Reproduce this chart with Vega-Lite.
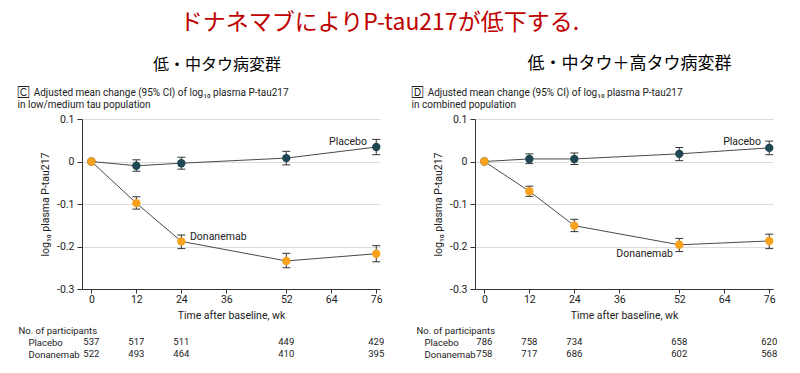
{
  "$schema": "https://vega.github.io/schema/vega-lite/v6.json",
  "padding": {"left": 17, "top": 12, "right": 5, "bottom": 5},
  "background": "white",
  "title": {"text": "ドナネマブによりP-tau217が低下する.", "color": "#c00000", "fontSize": 23, "font": "Noto Sans CJK JP", "fontWeight": "normal", "anchor": "middle", "dx": -18, "offset": 20},
  "datasets": {
    "pts": [
      {"panel": "C", "group": "Placebo", "week": 0, "mean": 0, "lo": 0, "hi": 0},
      {"panel": "C", "group": "Placebo", "week": 12, "mean": -0.010, "lo": -0.023, "hi": 0.004},
      {"panel": "C", "group": "Placebo", "week": 24, "mean": -0.004, "lo": -0.018, "hi": 0.010},
      {"panel": "C", "group": "Placebo", "week": 52, "mean": 0.008, "lo": -0.008, "hi": 0.024},
      {"panel": "C", "group": "Placebo", "week": 76, "mean": 0.034, "lo": 0.016, "hi": 0.052},
      {"panel": "C", "group": "Donanemab", "week": 0, "mean": 0, "lo": 0, "hi": 0},
      {"panel": "C", "group": "Donanemab", "week": 12, "mean": -0.098, "lo": -0.112, "hi": -0.083},
      {"panel": "C", "group": "Donanemab", "week": 24, "mean": -0.188, "lo": -0.205, "hi": -0.173},
      {"panel": "C", "group": "Donanemab", "week": 52, "mean": -0.234, "lo": -0.250, "hi": -0.216},
      {"panel": "C", "group": "Donanemab", "week": 76, "mean": -0.217, "lo": -0.236, "hi": -0.198},
      {"panel": "D", "group": "Placebo", "week": 0, "mean": 0, "lo": 0, "hi": 0},
      {"panel": "D", "group": "Placebo", "week": 12, "mean": 0.006, "lo": -0.005, "hi": 0.018},
      {"panel": "D", "group": "Placebo", "week": 24, "mean": 0.006, "lo": -0.007, "hi": 0.020},
      {"panel": "D", "group": "Placebo", "week": 52, "mean": 0.018, "lo": 0.002, "hi": 0.033},
      {"panel": "D", "group": "Placebo", "week": 76, "mean": 0.032, "lo": 0.016, "hi": 0.048},
      {"panel": "D", "group": "Donanemab", "week": 0, "mean": 0, "lo": 0, "hi": 0},
      {"panel": "D", "group": "Donanemab", "week": 12, "mean": -0.070, "lo": -0.082, "hi": -0.058},
      {"panel": "D", "group": "Donanemab", "week": 24, "mean": -0.151, "lo": -0.165, "hi": -0.136},
      {"panel": "D", "group": "Donanemab", "week": 52, "mean": -0.196, "lo": -0.212, "hi": -0.181},
      {"panel": "D", "group": "Donanemab", "week": 76, "mean": -0.187, "lo": -0.205, "hi": -0.171}
    ],
    "labels": [
      {"panel": "C", "label": "Placebo", "week": 73.5, "value": 0.047, "side": "right"},
      {"panel": "C", "label": "Donanemab", "week": 26.3, "value": -0.178, "side": "left"},
      {"panel": "D", "label": "Placebo", "week": 73.8, "value": 0.047, "side": "right"},
      {"panel": "D", "label": "Donanemab", "week": 50.3, "value": -0.217, "side": "right"}
    ],
    "counts": [
      {"panel": "C", "group": "Placebo", "week": 0, "n": 537},
      {"panel": "C", "group": "Placebo", "week": 12, "n": 517},
      {"panel": "C", "group": "Placebo", "week": 24, "n": 511},
      {"panel": "C", "group": "Placebo", "week": 52, "n": 449},
      {"panel": "C", "group": "Placebo", "week": 76, "n": 429},
      {"panel": "C", "group": "Donanemab", "week": 0, "n": 522},
      {"panel": "C", "group": "Donanemab", "week": 12, "n": 493},
      {"panel": "C", "group": "Donanemab", "week": 24, "n": 464},
      {"panel": "C", "group": "Donanemab", "week": 52, "n": 410},
      {"panel": "C", "group": "Donanemab", "week": 76, "n": 395},
      {"panel": "D", "group": "Placebo", "week": 0, "n": 786},
      {"panel": "D", "group": "Placebo", "week": 12, "n": 758},
      {"panel": "D", "group": "Placebo", "week": 24, "n": 734},
      {"panel": "D", "group": "Placebo", "week": 52, "n": 658},
      {"panel": "D", "group": "Placebo", "week": 76, "n": 620},
      {"panel": "D", "group": "Donanemab", "week": 0, "n": 758},
      {"panel": "D", "group": "Donanemab", "week": 12, "n": 717},
      {"panel": "D", "group": "Donanemab", "week": 24, "n": 686},
      {"panel": "D", "group": "Donanemab", "week": 52, "n": 602},
      {"panel": "D", "group": "Donanemab", "week": 76, "n": 568}
    ]
  },
  "spacing": 26,
  "hconcat": [
    {
      "title": {"text": "低・中タウ病変群", "fontSize": 16, "font": "Noto Sans CJK JP", "fontWeight": "normal", "color": "#000", "anchor": "middle", "dx": 16, "offset": 15},
      "spacing": 4,
      "vconcat": [
        {
          "width": 298,
          "height": 170,
          "title": {"text": ["🄲\u2002Adjusted mean change (95% CI) of log₁₀ plasma P-tau217", "\u2003\u2002in low/medium tau population"], "anchor": "start", "dx": -23, "fontSize": 10, "font": "Roboto", "fontWeight": "normal", "color": "#222", "lineHeight": 12, "offset": 4},
          "data": {"name": "pts"},
          "transform": [{"filter": "datum.panel === 'C'"}],
          "layer": [
            {
              "mark": {"type": "line", "color": "#4a4a4a", "strokeWidth": 1},
              "encoding": {
                "x": {"field": "week", "type": "quantitative", "scale": {"domain": [-2.5, 77], "nice": false, "zero": false}, "title": "Time after baseline, wk",
                  "axis": {"values": [0, 12, 24, 36, 52, 64, 76], "grid": false, "tickSize": 4, "labelPadding": 1, "titlePadding": 6}},
                "y": {"field": "mean", "type": "quantitative", "scale": {"domain": [-0.3, 0.1], "nice": false, "zero": false}, "title": "log₁₀ plasma P-tau217",
                  "axis": {"values": [-0.3, -0.2, -0.1, 0, 0.1], "grid": true, "tickSize": 5, "labelPadding": 3, "titlePadding": 6,
                    "labelExpr": "datum.value === 0 ? '0' : (datum.value < 0 ? '-' : '') + format(abs(datum.value), '.1f')"}},
                "detail": {"field": "group"}
              }
            },
            {
              "transform": [{"filter": "datum.week > 0"}],
              "mark": {"type": "rule", "color": "#333", "strokeWidth": 1},
              "encoding": {
                "x": {"field": "week", "type": "quantitative", "title": "Time after baseline, wk"},
                "y": {"field": "lo", "type": "quantitative", "title": "log₁₀ plasma P-tau217"},
                "y2": {"field": "hi"}
              }
            },
            {
              "transform": [{"filter": "datum.week > 0"}],
              "mark": {"type": "tick", "orient": "horizontal", "size": 8, "thickness": 1, "color": "#333", "opacity": 1},
              "encoding": {
                "x": {"field": "week", "type": "quantitative", "title": "Time after baseline, wk"},
                "y": {"field": "lo", "type": "quantitative", "title": "log₁₀ plasma P-tau217"}
              }
            },
            {
              "transform": [{"filter": "datum.week > 0"}],
              "mark": {"type": "tick", "orient": "horizontal", "size": 8, "thickness": 1, "color": "#333", "opacity": 1},
              "encoding": {
                "x": {"field": "week", "type": "quantitative", "title": "Time after baseline, wk"},
                "y": {"field": "hi", "type": "quantitative", "title": "log₁₀ plasma P-tau217"}
              }
            },
            {
              "mark": {"type": "circle", "size": 70, "opacity": 1},
              "encoding": {
                "x": {"field": "week", "type": "quantitative", "title": "Time after baseline, wk"},
                "y": {"field": "mean", "type": "quantitative", "title": "log₁₀ plasma P-tau217"},
                "color": {"field": "group", "type": "nominal", "scale": {"domain": ["Placebo", "Donanemab"], "range": ["#1f4753", "#f7a11c"]}, "legend": null}
              }
            },
            {
              "data": {"name": "labels"},
              "transform": [{"filter": "datum.panel === 'C' && datum.side === 'right'"}],
              "mark": {"type": "text", "align": "right", "baseline": "middle", "fontSize": 10.5, "font": "Roboto", "color": "#222"},
              "encoding": {
                "x": {"field": "week", "type": "quantitative", "title": "Time after baseline, wk"},
                "y": {"field": "value", "type": "quantitative", "title": "log₁₀ plasma P-tau217"},
                "text": {"field": "label"}
              }
            },
            {
              "data": {"name": "labels"},
              "transform": [{"filter": "datum.panel === 'C' && datum.side === 'left'"}],
              "mark": {"type": "text", "align": "left", "baseline": "middle", "fontSize": 10.5, "font": "Roboto", "color": "#222"},
              "encoding": {
                "x": {"field": "week", "type": "quantitative", "title": "Time after baseline, wk"},
                "y": {"field": "value", "type": "quantitative", "title": "log₁₀ plasma P-tau217"},
                "text": {"field": "label"}
              }
            }
          ]
        },
        {
          "width": 298,
          "height": 24,
          "data": {"name": "counts"},
          "transform": [{"filter": "datum.panel === 'C'"}],
          "mark": {"type": "text", "fontSize": 9.5, "font": "Roboto", "color": "#222", "baseline": "middle"},
          "encoding": {
            "x": {"field": "week", "type": "quantitative", "scale": {"domain": [-2.5, 77], "nice": false, "zero": false}, "axis": null},
            "y": {"field": "group", "type": "nominal", "sort": ["Placebo", "Donanemab"], "title": "No. of participants",
              "axis": {"domain": false, "ticks": false, "tickSize": 0, "labelAlign": "left", "labelPadding": 54, "labelFontSize": 9.5, "titleFontSize": 9.5, "titleAngle": 0, "titleX": -64, "titleY": -6, "titleAlign": "left", "titleBaseline": "middle"}},
            "text": {"field": "n"}
          }
        }
      ]
    },
    {
      "title": {"text": "低・中タウ＋高タウ病変群", "fontSize": 17, "font": "Noto Sans CJK JP", "fontWeight": "normal", "color": "#000", "anchor": "middle", "dx": 35, "offset": 15},
      "spacing": 4,
      "vconcat": [
        {
          "width": 298,
          "height": 170,
          "title": {"text": ["🄳\u2002Adjusted mean change (95% CI) of log₁₀ plasma P-tau217", "\u2003\u2002in combined population"], "anchor": "start", "dx": -22, "fontSize": 10, "font": "Roboto", "fontWeight": "normal", "color": "#222", "lineHeight": 12, "offset": 4},
          "data": {"name": "pts"},
          "transform": [{"filter": "datum.panel === 'D'"}],
          "layer": [
            {
              "mark": {"type": "line", "color": "#4a4a4a", "strokeWidth": 1},
              "encoding": {
                "x": {"field": "week", "type": "quantitative", "scale": {"domain": [-2.5, 77], "nice": false, "zero": false}, "title": "Time after baseline, wk",
                  "axis": {"values": [0, 12, 24, 36, 52, 64, 76], "grid": false, "tickSize": 4, "labelPadding": 1, "titlePadding": 6}},
                "y": {"field": "mean", "type": "quantitative", "scale": {"domain": [-0.3, 0.1], "nice": false, "zero": false}, "title": "log₁₀ plasma P-tau217",
                  "axis": {"values": [-0.3, -0.2, -0.1, 0, 0.1], "grid": true, "tickSize": 5, "labelPadding": 3, "titlePadding": 6,
                    "labelExpr": "datum.value === 0 ? '0' : (datum.value < 0 ? '-' : '') + format(abs(datum.value), '.1f')"}},
                "detail": {"field": "group"}
              }
            },
            {
              "transform": [{"filter": "datum.week > 0"}],
              "mark": {"type": "rule", "color": "#333", "strokeWidth": 1},
              "encoding": {
                "x": {"field": "week", "type": "quantitative", "title": "Time after baseline, wk"},
                "y": {"field": "lo", "type": "quantitative", "title": "log₁₀ plasma P-tau217"},
                "y2": {"field": "hi"}
              }
            },
            {
              "transform": [{"filter": "datum.week > 0"}],
              "mark": {"type": "tick", "orient": "horizontal", "size": 8, "thickness": 1, "color": "#333", "opacity": 1},
              "encoding": {
                "x": {"field": "week", "type": "quantitative", "title": "Time after baseline, wk"},
                "y": {"field": "lo", "type": "quantitative", "title": "log₁₀ plasma P-tau217"}
              }
            },
            {
              "transform": [{"filter": "datum.week > 0"}],
              "mark": {"type": "tick", "orient": "horizontal", "size": 8, "thickness": 1, "color": "#333", "opacity": 1},
              "encoding": {
                "x": {"field": "week", "type": "quantitative", "title": "Time after baseline, wk"},
                "y": {"field": "hi", "type": "quantitative", "title": "log₁₀ plasma P-tau217"}
              }
            },
            {
              "mark": {"type": "circle", "size": 70, "opacity": 1},
              "encoding": {
                "x": {"field": "week", "type": "quantitative", "title": "Time after baseline, wk"},
                "y": {"field": "mean", "type": "quantitative", "title": "log₁₀ plasma P-tau217"},
                "color": {"field": "group", "type": "nominal", "scale": {"domain": ["Placebo", "Donanemab"], "range": ["#1f4753", "#f7a11c"]}, "legend": null}
              }
            },
            {
              "data": {"name": "labels"},
              "transform": [{"filter": "datum.panel === 'D'"}],
              "mark": {"type": "text", "align": "right", "baseline": "middle", "fontSize": 10.5, "font": "Roboto", "color": "#222"},
              "encoding": {
                "x": {"field": "week", "type": "quantitative", "title": "Time after baseline, wk"},
                "y": {"field": "value", "type": "quantitative", "title": "log₁₀ plasma P-tau217"},
                "text": {"field": "label"}
              }
            }
          ]
        },
        {
          "width": 298,
          "height": 24,
          "data": {"name": "counts"},
          "transform": [{"filter": "datum.panel === 'D'"}],
          "mark": {"type": "text", "fontSize": 9.5, "font": "Roboto", "color": "#222", "baseline": "middle"},
          "encoding": {
            "x": {"field": "week", "type": "quantitative", "scale": {"domain": [-2.5, 77], "nice": false, "zero": false}, "axis": null},
            "y": {"field": "group", "type": "nominal", "sort": ["Placebo", "Donanemab"], "title": "No. of participants",
              "axis": {"domain": false, "ticks": false, "tickSize": 0, "labelAlign": "left", "labelPadding": 51, "labelFontSize": 9.5, "titleFontSize": 9.5, "titleAngle": 0, "titleX": -59, "titleY": -6, "titleAlign": "left", "titleBaseline": "middle"}},
            "text": {"field": "n"}
          }
        }
      ]
    }
  ],
  "config": {
    "view": {"stroke": null},
    "axis": {
      "labelFont": "Roboto", "labelFontSize": 10.5, "labelColor": "#222",
      "titleFont": "Roboto", "titleFontSize": 10.5, "titleFontWeight": "normal", "titleColor": "#222",
      "domainColor": "#333", "tickColor": "#333", "gridColor": "#dcdcdc"
    }
  }
}
